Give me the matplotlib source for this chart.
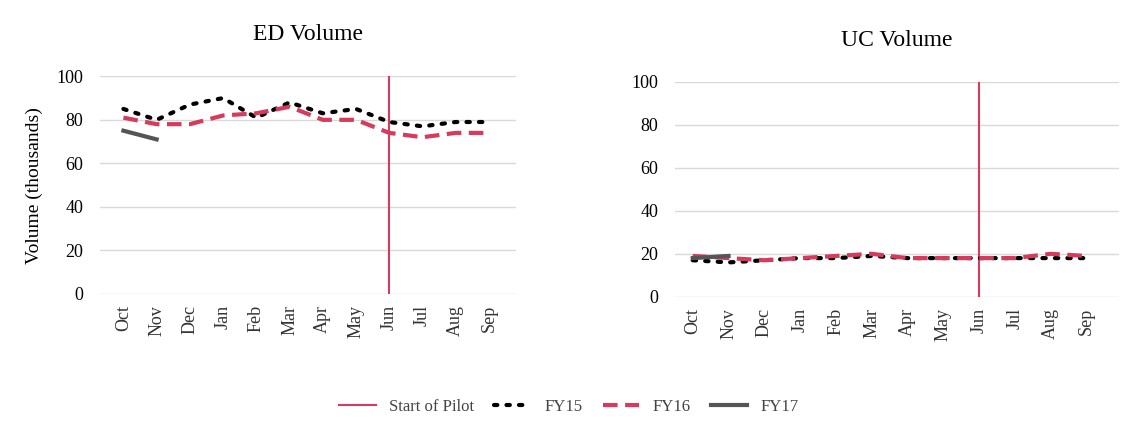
import numpy as np
import matplotlib.pyplot as plt

months = ['Oct', 'Nov', 'Dec', 'Jan', 'Feb', 'Mar', 'Apr', 'May', 'Jun', 'Jul', 'Aug', 'Sep']

ed_fy15 = [85, 80, 87, 90, 81, 88, 83, 85, 79, 77, 79, 79]
ed_fy16 = [81, 78, 78, 82, 83, 86, 80, 80, 74, 72, 74, 74]
ed_fy17 = [75, 71]

uc_fy15 = [17, 16, 17, 18, 18, 19, 18, 18, 18, 18, 18, 18]
uc_fy16 = [19, 18, 17, 18, 19, 20, 18, 18, 18, 18, 20, 19]
uc_fy17 = [18, 19]

pilot_month = 'Jun'

plt.rcParams['font.family'] = ['Liberation Serif', 'DejaVu Serif']

red = '#d63a5c'
fig = plt.figure(figsize=(11.38, 4.24), dpi=100)
ax1 = fig.add_axes([0.088, 0.307, 0.365, 0.513])
ax2 = fig.add_axes([0.593, 0.30, 0.39, 0.507])

x = np.arange(len(months))
xp = months.index(pilot_month)


def draw(ax, fy15, fy16, fy17, title, xlim):
    ax.axvline(xp, color=red, lw=1.5, label='Start of Pilot', zorder=2)
    ax.plot(x, fy15, color='black', ls=(0, (0.8, 2.2)), lw=3, label='FY15', zorder=3,
            dash_capstyle='round')
    ax.plot(x, fy16, color=red, ls=(0, (3.5, 1.8)), lw=3, label='FY16', zorder=4)
    ax.plot(x[:len(fy17)], fy17, color='#555555', lw=3, label='FY17', zorder=5)
    ax.set_ylim(0, 100)
    ax.set_xlim(*xlim)
    ax.set_yticks(range(0, 101, 20))
    ax.set_xticks(x)
    ax.set_xticklabels(months, rotation=90, fontsize=13, color='#333333')
    ax.tick_params(axis='y', labelsize=13, length=0, pad=12)
    ax.tick_params(axis='x', length=0, pad=8)
    ax.grid(axis='y', color='#d9d9d9', lw=1)
    ax.set_axisbelow(True)
    for s in ax.spines.values():
        s.set_visible(False)
    ax.set_title(title, fontsize=17, pad=26)


draw(ax1, ed_fy15, ed_fy16, ed_fy17, 'ED Volume', (-0.7, 11.8))
draw(ax2, uc_fy15, uc_fy16, uc_fy17, 'UC Volume', (-0.5, 11.9))
ax1.set_ylabel('Volume (thousands)', fontsize=14, labelpad=10)

h, l = ax1.get_legend_handles_labels()
fig.legend(h, l, loc='center', bbox_to_anchor=(0.5, 0.04), ncol=4, frameon=False,
           fontsize=12, handlelength=2.2, columnspacing=1.2, labelcolor='#444444')

fig.savefig('out.png', dpi=100)
